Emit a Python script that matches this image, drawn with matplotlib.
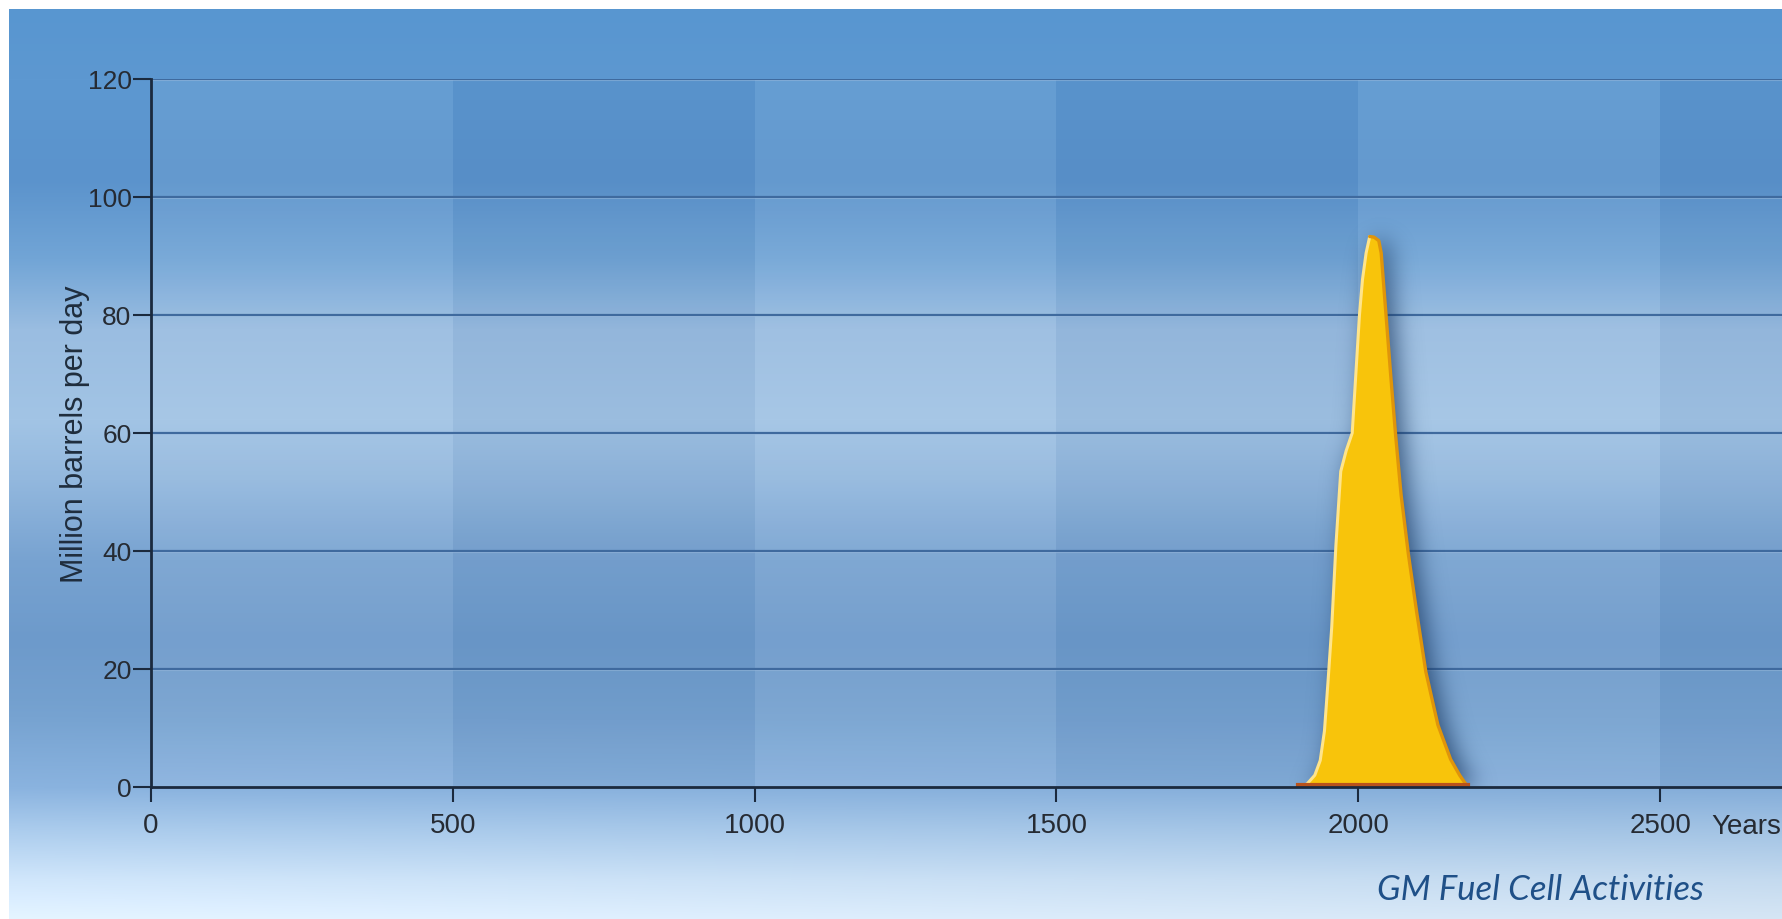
import numpy as np
import matplotlib
matplotlib.use("Agg")
import matplotlib.pyplot as plt
from matplotlib.colors import to_rgb

# world oil production, million barrels per day
years = [1900, 1915, 1928, 1937, 1944, 1950, 1956, 1963, 1971, 1980, 1990,
         1996, 2002, 2007, 2013, 2019, 2026, 2034, 2038, 2046, 2054, 2062,
         2071, 2083, 2097, 2112, 2132, 2153, 2168, 2176, 2182]
production = [0, 0.5, 2, 4.5, 9.5, 18, 27, 41, 53.5, 57, 60,
              70, 80, 86, 90.5, 93.3, 93.2, 92.6, 90.5, 80, 69.5, 59.5,
              49.5, 39.5, 29.5, 19.5, 10.5, 4.7, 2, 0.8, 0]

x_ticks = [0, 500, 1000, 1500, 2000, 2500]
y_ticks = [0, 20, 40, 60, 80, 100, 120]

W, H = 1782, 920
fig = plt.figure(figsize=(W / 100, H / 100), dpi=100, facecolor="white")

# blue backdrop: vertical gradient, lighter toward the lower left
bg_stops = [(10, "#5896d0"), (80, "#5d98d1"), (180, "#5b93cc"), (260, "#72a5d6"),
            (330, "#9abde1"), (420, "#a2c4e5"), (480, "#93b8de"), (560, "#78a3d1"),
            (640, "#6d9acb"), (720, "#76a2d0"), (788, "#84add9"), (830, "#a2c3e4"),
            (880, "#c4daef"), (920, "#d6e6f5")]
rows = np.arange(10, H)
stop_y = [s[0] for s in bg_stops]
stop_c = np.array([to_rgb(s[1]) for s in bg_stops])
prof = np.stack([np.interp(rows, stop_y, stop_c[:, k]) for k in range(3)], axis=1)
cols = np.linspace(0, 1, W - 9)
img = np.repeat(prof[:, None, :], W - 9, axis=1)
low = np.clip((rows - 700) / 220, 0, 1)[:, None]
img = img + (low * (1 - cols[None, :]) * 0.06)[:, :, None]
img = np.clip(img, 0, 1)

bg = fig.add_axes([9 / W, 0, 1 - 9 / W, 1 - 10 / H])
bg.imshow(img, aspect="auto", extent=[0, 1, 0, 1], interpolation="bilinear")
bg.axis("off")

left, bottom, top = 151 / W, (H - 788) / H, (H - 80) / H
ax = fig.add_axes([left, bottom, 1 - left, top - bottom])
ax.patch.set_alpha(0)
ax.set_xlim(0, 2702)
ax.set_ylim(0, 120)

# alternating column shading every 500 years
for i, x0 in enumerate(range(0, 3000, 500)):
    if i % 2 == 0:
        ax.axvspan(x0, x0 + 500, color="white", alpha=0.06, lw=0, zorder=0.5)
    else:
        ax.axvspan(x0, x0 + 500, color="#1c3f70", alpha=0.05, lw=0, zorder=0.5)

for y in y_ticks[1:]:
    ax.axhline(y, color="#3f6a9e", lw=1.6, zorder=1.5)
    ax.axhline(y - 0.25, color="#a9c8e8", lw=0.8, alpha=0.5, zorder=1.4)

# soft shadow behind the peak
sx = np.linspace(1780, 2320, 330)
sy = np.linspace(-12, 112, 520)
edge = np.interp(sx, years, production, left=0, right=0)
mask = ((sy[:, None] <= edge[None, :]) & (sy[:, None] >= 0)).astype(float)


def blur(a, sigma, axis):
    r = int(3 * sigma)
    k = np.exp(-0.5 * (np.arange(-r, r + 1) / sigma) ** 2)
    k /= k.sum()
    return np.apply_along_axis(lambda v: np.convolve(v, k, mode="same"), axis, a)


soft = blur(blur(mask, 12, 1), 7, 0)
shadow = np.zeros(soft.shape + (4,))
shadow[..., :3] = to_rgb("#16355e")
shadow[..., 3] = np.clip(soft * 0.75, 0, 0.6)
ax.imshow(shadow, origin="lower", aspect="auto", extent=[1792, 2332, -12, 112],
          interpolation="bilinear", zorder=2)

ax.fill_between(years, production, 0, color="#f8c40b", lw=0, zorder=3)
peak = int(np.argmax(production))
ax.plot(years[:peak + 1], production[:peak + 1], color="#ffe48a", lw=2.2,
        solid_capstyle="round", zorder=4)
ax.plot(years[peak:], production[peak:], color="#e0950a", lw=2.4,
        solid_capstyle="round", zorder=4)
ax.plot([years[0], years[-1]], [0.4, 0.4], color="#b9531c", lw=3, zorder=4)

for s in ["top", "right"]:
    ax.spines[s].set_visible(False)
for s in ["left", "bottom"]:
    ax.spines[s].set_color("#1b2a3e")
    ax.spines[s].set_linewidth(2)
    ax.spines[s].set_zorder(5)

ax.set_xticks(x_ticks)
ax.set_yticks(y_ticks)
ax.tick_params(axis="y", length=13, width=1.5, color="#1b2a3e", pad=1,
               labelsize=19, labelcolor="#262b33")
ax.tick_params(axis="x", length=11, width=1.5, color="#1b2a3e", pad=7,
               labelsize=20, labelcolor="#262b33")
for lab in ax.get_xticklabels() + ax.get_yticklabels():
    lab.set_family(["Liberation Sans", "DejaVu Sans"])

ax.set_ylabel("Million barrels per day", fontsize=22, color="#1f2d3d",
              family=["Liberation Sans", "DejaVu Sans"], labelpad=-2)
ax.text(2585, -6.6, "Years", fontsize=20, color="#262b33", ha="left", va="center",
        family=["Liberation Sans", "DejaVu Sans"], clip_on=False)

fig.text(1540 / W, 1 - 890 / H, "GM Fuel Cell Activities", fontsize=25,
         style="italic", color="#1f5088", ha="center", va="center",
         family=["Lato", "DejaVu Sans"])

fig.savefig("out.png", dpi=100, facecolor="white")
